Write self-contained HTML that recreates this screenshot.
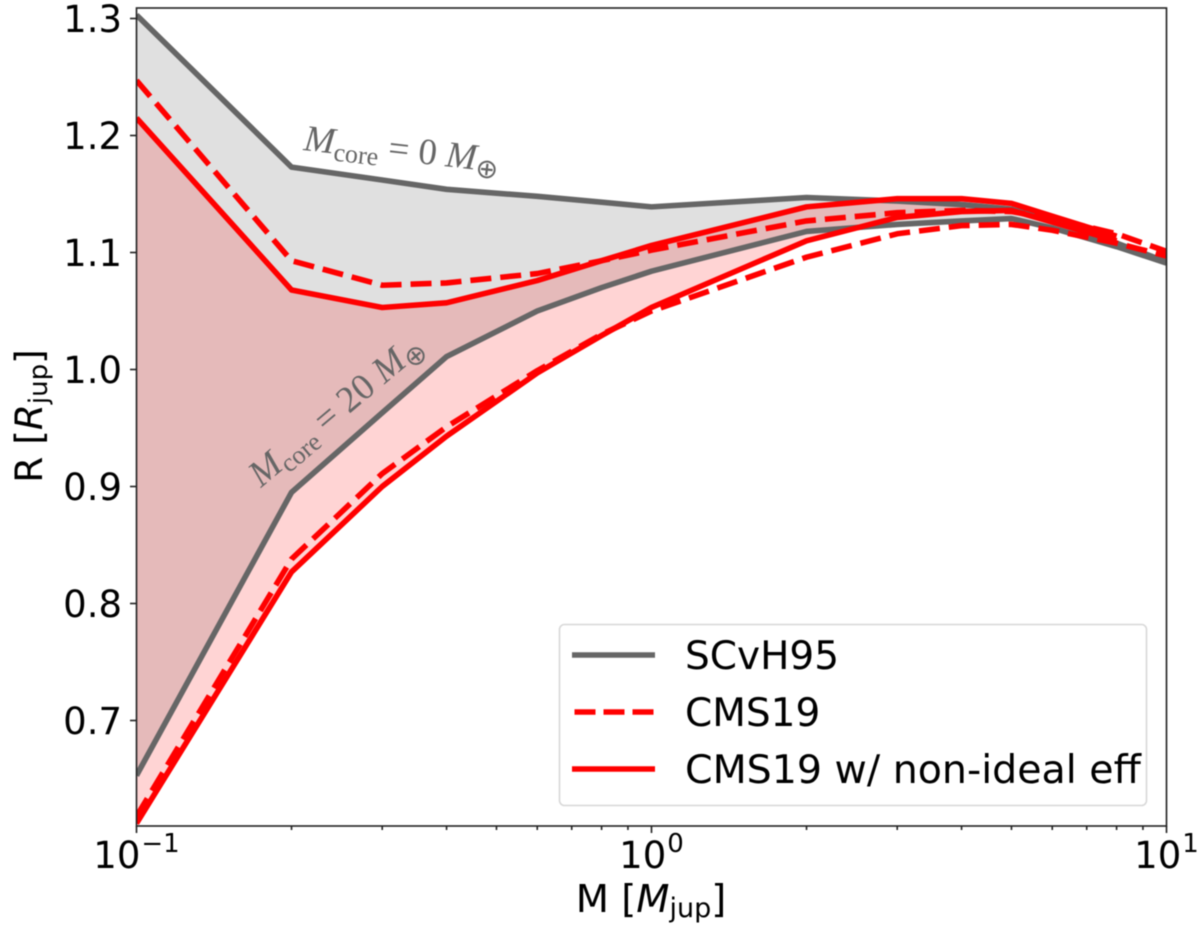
<!DOCTYPE html>
<html lang="en">
<head>
<meta charset="utf-8">
<title>Mass-radius relation</title>
<style>
html,body{margin:0;padding:0;background:#fff;}
svg{display:block;font-family:"DejaVu Sans",sans-serif;filter:blur(0.4px);}
</style>
</head>
<body>
<svg id="chart" xmlns="http://www.w3.org/2000/svg" width="1200" height="931" viewBox="0 0 1200 931">
  <defs><clipPath id="plot-clip"><rect x="136.5" y="8" width="1030" height="818"/></clipPath></defs>
  <g id="fills" clip-path="url(#plot-clip)"></g>
  <g id="lines" clip-path="url(#plot-clip)"></g>
  <text transform="translate(303 150) rotate(6.5)" font-family="'Liberation Serif',serif" font-size="37" fill="#666"><tspan font-style="italic">M</tspan><tspan font-size="26" dy="7">core</tspan><tspan dy="-7"> = 0 </tspan><tspan font-style="italic">M</tspan><tspan font-size="27" dy="7" font-family="'DejaVu Sans',sans-serif">⊕</tspan></text>
  <text transform="translate(261 488) rotate(-40)" font-family="'Liberation Serif',serif" font-size="37" fill="#666"><tspan font-style="italic">M</tspan><tspan font-size="26" dy="7">core</tspan><tspan dy="-7"> = 20 </tspan><tspan font-style="italic">M</tspan><tspan font-size="27" dy="7" font-family="'DejaVu Sans',sans-serif">⊕</tspan></text>
  <g id="axes"></g>
  <rect x="136.5" y="8" width="1030" height="818" fill="none" stroke="#222" stroke-width="1.6"/>
  <text x="651" y="912" font-size="38.5" text-anchor="middle" fill="#000">M [<tspan font-style="italic">M</tspan><tspan font-size="27" dy="5">jup</tspan><tspan dy="-5">]</tspan></text>
  <text transform="translate(42 416) rotate(-90)" font-size="37.5" text-anchor="middle" fill="#000">R [<tspan font-style="italic">R</tspan><tspan font-size="26" dy="5">jup</tspan><tspan dy="-5">]</tspan></text>
  <g>
    <rect x="559.5" y="624.5" width="587" height="181" rx="5" fill="#fff" fill-opacity="0.8" stroke="#d8d8d8" stroke-width="1.6"/>
    <line x1="572" y1="655" x2="655" y2="655" stroke="#666" stroke-width="5.6"/>
    <text x="685" y="669" font-size="39" fill="#000">SCvH95</text>
    <line x1="574.5" y1="712" x2="653.5" y2="712" stroke="#f00" stroke-width="5.6" stroke-dasharray="21 8"/>
    <text x="685" y="726" font-size="39" fill="#000">CMS19</text>
    <line x1="572" y1="769" x2="655" y2="769" stroke="#f00" stroke-width="5.6"/>
    <text x="685" y="783" font-size="39.5" fill="#000">CMS19 w/ non-ideal eff</text>
  </g>
</svg>
<script>
// Data: planet mass [M_jup] and radius [R_jup]
const masses = [0.1, 0.2, 0.3, 0.4, 0.6, 0.8, 1, 2, 3, 4, 5, 6, 8, 10];
const massesNonIdeal = [0.1, 0.2, 0.3, 0.4, 0.6, 0.8, 1, 2, 3, 4, 5, 6, 8];
const scvhCore0 = [1.303, 1.173, 1.162, 1.154, 1.148, 1.143, 1.139, 1.147, 1.144, 1.141, 1.137, 1.127, 1.108, 1.092];
const scvhCore20 = [0.653, 0.895, 0.963, 1.011, 1.050, 1.070, 1.084, 1.118, 1.124, 1.127, 1.129, 1.121, 1.105, 1.091];
const cmsCore0 = [1.247, 1.093, 1.072, 1.074, 1.082, 1.093, 1.102, 1.127, 1.134, 1.136, 1.135, 1.129, 1.116, 1.101];
const cmsCore20 = [0.618, 0.838, 0.911, 0.951, 0.999, 1.030, 1.050, 1.096, 1.116, 1.123, 1.124, 1.119, 1.108, 1.097];
const nonIdealCore0 = [1.215, 1.068, 1.053, 1.057, 1.076, 1.093, 1.106, 1.139, 1.146, 1.146, 1.142, 1.131, 1.114];
const nonIdealCore20 = [0.612, 0.827, 0.900, 0.943, 0.997, 1.029, 1.053, 1.110, 1.130, 1.135, 1.136, 1.126, 1.110];
const yTicks = [0.7, 0.8, 0.9, 1.0, 1.1, 1.2, 1.3];
const yTickLabels = ["0.7", "0.8", "0.9", "1.0", "1.1", "1.2", "1.3"];
const xDecades = [0.1, 1, 10];
const xDecadeExponents = ["\u22121", "0", "1"];
const xMinorTicks = [0.2, 0.3, 0.4, 0.5, 0.6, 0.7, 0.8, 0.9, 2, 3, 4, 5, 6, 7, 8, 9];

const NS = "http://www.w3.org/2000/svg";
function xScale(m) { return 136.5 + 515 * (Math.log10(m) + 1); }
function yScale(r) { return 369.5 - (r - 1) * 1170; }
function pts(xs, ys) { return xs.map(function (m, i) { return xScale(m).toFixed(2) + "," + yScale(ys[i]).toFixed(2); }); }

function band(xs, upper, lower, fill, name) {
  const el = document.createElementNS(NS, "polygon");
  el.setAttribute("points", pts(xs, upper).concat(pts(xs, lower).reverse()).join(" "));
  el.setAttribute("fill", fill);
  
  
  document.getElementById("fills").appendChild(el);
}
function curve(xs, ys, color, dashed, name) {
  const el = document.createElementNS(NS, "polyline");
  el.setAttribute("points", pts(xs, ys).join(" "));
  el.setAttribute("fill", "none");
  el.setAttribute("stroke", color);
  el.setAttribute("stroke-width", "5.6");
  el.setAttribute("stroke-linejoin", "round");
  if (dashed) el.setAttribute("stroke-dasharray", "21 9");
  
  
  document.getElementById("lines").appendChild(el);
}

band(masses, scvhCore0, scvhCore20, "rgba(102,102,102,0.2)", "scvh95-band");
band(massesNonIdeal, nonIdealCore0, nonIdealCore20, "rgba(255,0,0,0.17)", "cms19-nonideal-band");
curve(masses, scvhCore0, "#666", false, "scvh95-core-0-line");
curve(masses, scvhCore20, "#666", false, "scvh95-core-20-line");
curve(masses, cmsCore0, "#f00", true, "cms19-core-0-line");
curve(masses, cmsCore20, "#f00", true, "cms19-core-20-line");
curve(massesNonIdeal, nonIdealCore0, "#f00", false, "cms19-nonideal-core-0-line");
curve(massesNonIdeal, nonIdealCore20, "#f00", false, "cms19-nonideal-core-20-line");

const axes = document.getElementById("axes");
function tick(x1, y1, x2, y2) {
  const el = document.createElementNS(NS, "line");
  el.setAttribute("x1", x1);
  el.setAttribute("y1", y1);
  el.setAttribute("x2", x2);
  el.setAttribute("y2", y2);
  el.setAttribute("stroke", "#222");
  el.setAttribute("stroke-width", "1.6");
  
  
  axes.appendChild(el);
}
yTicks.forEach(function (v, i) {
  const y = yScale(v);
  tick(130, y, 136.5, y);
  const t = document.createElementNS(NS, "text");
  t.setAttribute("x", 122);
  t.setAttribute("y", y + 13.5);
  t.setAttribute("text-anchor", "end");
  t.setAttribute("font-size", "37");
  t.setAttribute("fill", "#000");
  
  
  t.textContent = yTickLabels[i];
  axes.appendChild(t);
});
xMinorTicks.forEach(function (m) {
  const x = xScale(m);
  tick(x, 826, x, 830);
});
xDecades.forEach(function (m, i) {
  const x = xScale(m);
  tick(x, 826, x, 833);
  const t = document.createElementNS(NS, "text");
  t.setAttribute("x", x);
  t.setAttribute("y", 868);
  t.setAttribute("text-anchor", "middle");
  t.setAttribute("font-size", "37");
  t.setAttribute("fill", "#000");
  
  
  t.textContent = "10";
  const s = document.createElementNS(NS, "tspan");
  s.setAttribute("font-size", "26");
  s.setAttribute("dy", "-16");
  s.setAttribute("dx", "1");
  s.textContent = xDecadeExponents[i];
  t.appendChild(s);
  axes.appendChild(t);
});
</script>
</body>
</html>
